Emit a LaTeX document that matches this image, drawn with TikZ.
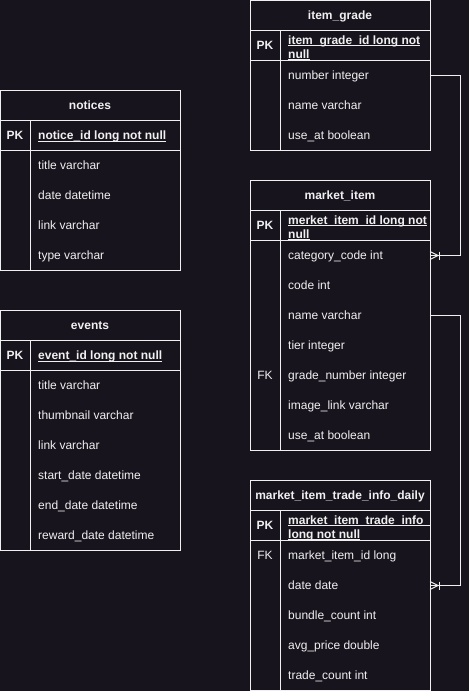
\documentclass[tikz,border=0pt]{standalone}
\usepackage{fontspec}
\setmainfont{Liberation Sans}
\definecolor{bg}{HTML}{18141D}
\definecolor{fg}{HTML}{F0F0F0}
\newsavebox{\ulbox}
\newcommand\ulx[1]{\sbox{\ulbox}{#1}\rlap{\rule[-2pt]{\wd\ulbox}{0.9pt}}\usebox{\ulbox}}
\tikzset{
  tbl/.style={draw=fg, line width=1pt},
  conn/.style={draw=fg, line width=1pt},
  basefont/.style={text=fg, inner sep=0pt, font=\fontsize{12}{14}\selectfont},
  hdrtxt/.style={basefont, font=\fontsize{12}{14}\selectfont\bfseries, anchor=base},
  keytxt/.style={basefont, anchor=base},
  pktxt/.style={basefont, font=\fontsize{12}{14}\selectfont\bfseries, anchor=base},
  fieldtxt/.style={basefont, anchor=base west},
  pkfield/.style={basefont, font=\fontsize{12}{14}\selectfont\bfseries, anchor=base west},
  crow/.pic={
    \draw[conn] (0,-4) -- (8,0) -- (0,4);
    \draw[conn] (9,-4) -- (9,4);
  }
}
% #1 id, #2 x, #3 y top, #4 number of rows, #5 title, #6 rows key/text
\newcommand\ertbl[6]{%
  \draw[tbl] (#2,#3) rectangle ({#2+180},{#3+60+30*#4});
  \draw[tbl] (#2,{#3+30}) -- ({#2+180},{#3+30});
  \draw[tbl] (#2,{#3+60}) -- ({#2+180},{#3+60});
  \draw[tbl] ({#2+30},{#3+30}) -- ({#2+30},{#3+60+30*#4});
  \node[hdrtxt] (#1) at ({#2+90},{#3+19}) {#5};
  \node[pktxt] (#1-pk) at ({#2+15},{#3+49}) {PK};
  \foreach \k/\t [count=\i] in {#6} {
    \node[keytxt] (#1-k\i) at ({#2+15},{#3+49+30*\i}) {\k};
    \node[fieldtxt] (#1-f\i) at ({#2+38},{#3+49+30*\i}) {\t};
    \coordinate (#1-e\i) at ({#2+180},{#3+45+30*\i});
  }
}
\begin{document}
\begin{tikzpicture}[x=1pt,y=-1pt]
\fill[bg] (0,0) rectangle (469,691);
\useasboundingbox (0,0) rectangle (469,691);

% item_grade
\ertbl{ig}{250}{0.5}{3}{item\_grade}{{}/number integer,{}/name varchar,{}/use\_at boolean}
\node[pkfield] (ig-pk1) at (288,44) {\ulx{item\_grade\_id long not}};
\node[pkfield] (ig-pk2) at (288,58) {\ulx{null}};

% notices
\ertbl{nt}{0}{90.5}{4}{notices}{{}/title varchar,{}/date datetime,{}/link varchar,{}/type varchar}
\node[pkfield] (nt-pkf) at (38,139.5) {\ulx{notice\_id long not null}};

% market_item
\ertbl{mi}{250}{180.5}{7}{market\_item}{{}/category\_code int,{}/code int,{}/name varchar,{}/tier integer,FK/grade\_number integer,{}/image\_link varchar,{}/use\_at boolean}
\node[pkfield] (mi-pk1) at (288,224) {\ulx{merket\_item\_id long not}};
\node[pkfield] (mi-pk2) at (288,238) {\ulx{null}};

% events
\ertbl{ev}{0}{310.5}{6}{events}{{}/title varchar,{}/thumbnail varchar,{}/link varchar,{}/start\_date datetime,{}/end\_date datetime,{}/reward\_date datetime}
\node[pkfield] (ev-pkf) at (38,359.5) {\ulx{event\_id long not null}};

% market_item_trade_info_daily
\ertbl{td}{250}{480.5}{5}{market\_item\_trade\_info\_daily}{FK/market\_item\_id long,{}/date date,{}/bundle\_count int,{}/avg\_price double,{}/trade\_count int}
\begin{scope}
  \clip (281,511) rectangle (430,541);
  \node[pkfield] (td-pk1) at (288,524) {\ulx{market\_item\_trade\_info\_id}};
\end{scope}
\node[pkfield] (td-pk2) at (288,538) {\ulx{long not null}};

% relationships
\draw[conn] (ig-e1) -- ++(30,0) |- (mi-e1);
\pic at (mi-e1) {crow};
\draw[conn] (mi-e3) -- ++(30,0) |- (td-e2);
\pic at (td-e2) {crow};
\end{tikzpicture}
\end{document}
